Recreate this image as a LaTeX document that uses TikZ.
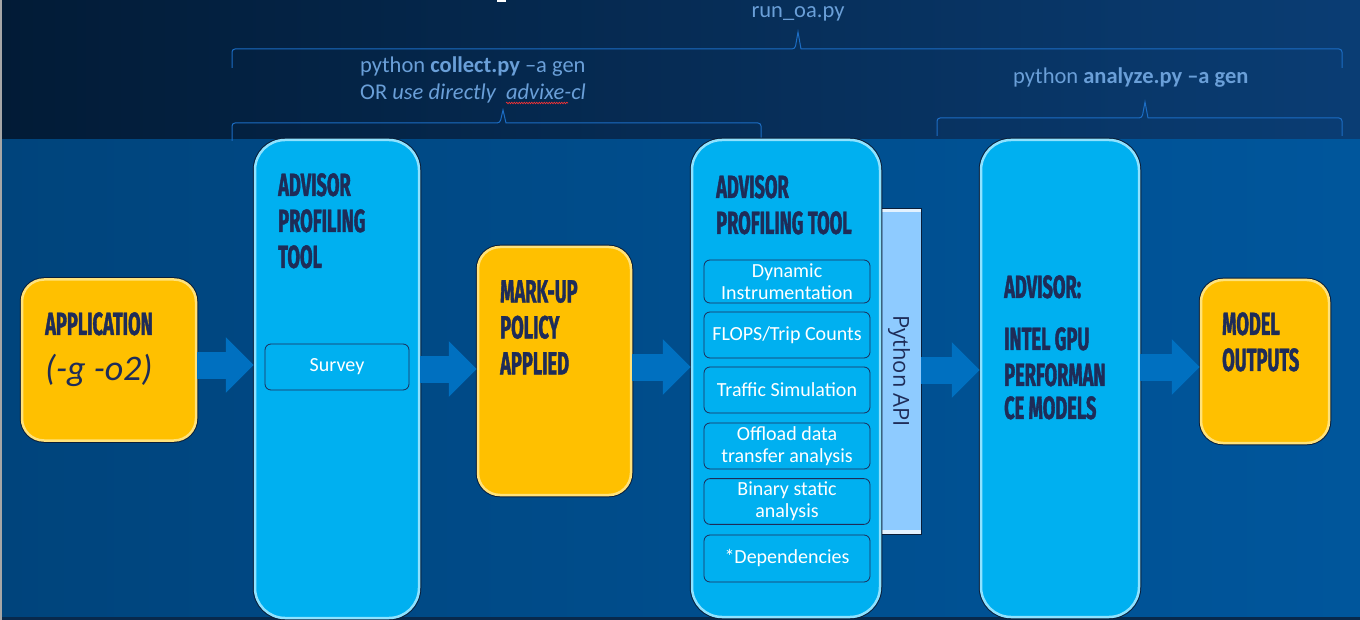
\documentclass[tikz,border=0pt]{standalone}
\usepackage{fontspec}
\setmainfont{Carlito}
\newfontfamily\headfont[FakeStretch=0.57, BoldFeatures={FakeBold=1.2}]{Fira Sans}
\newfontfamily\apifont{Open Sans}
\usepackage{tikz}
\usetikzlibrary{
  arrows.meta,
  positioning,
  calc,
  decorations.pathmorphing
}
\definecolor{topleft}{HTML}{021B36}
\definecolor{topright}{HTML}{0A3D74}
\definecolor{lowleft}{HTML}{00447C}
\definecolor{lowright}{HTML}{00569C}
\definecolor{toolcyan}{HTML}{00B0F0}
\definecolor{toolglow}{HTML}{8FE2FF}
\definecolor{markyellow}{HTML}{FFC000}
\definecolor{markglow}{HTML}{FFE27A}
\definecolor{edgedark}{HTML}{0B1E38}
\definecolor{headnavy}{HTML}{1E2C58}
\definecolor{apiblue}{HTML}{8ECBFF}
\definecolor{arrowblue}{HTML}{0070C0}
\definecolor{cmdblue}{HTML}{6A9FD8}
\definecolor{bracketblue}{HTML}{1C6DC4}
\tikzset{
  toolbox/.style={
    fill=toolcyan,
    draw=toolglow,
    line width=2.5pt,
    preaction={draw=edgedark, line width=4.5pt},
    rounded corners=30pt,
    inner sep=0pt,
  },
  inputbox/.style={
    fill=markyellow,
    draw=markglow,
    line width=2.5pt,
    preaction={draw=edgedark, line width=4.5pt},
    rounded corners=22pt,
    inner sep=0pt,
  },
  subbox/.style={
    fill=toolcyan,
    draw=headnavy,
    line width=0.8pt,
    rounded corners=6pt,
    minimum width=166pt,
    align=center,
    text=white,
    font=\fontsize{20}{22}\selectfont,
  },
  apibar/.style={
    fill=apiblue,
    draw=edgedark,
    line width=0.8pt,
    inner sep=0pt,
    path picture={
      \fill[white!75!apiblue] (path picture bounding box.north west) rectangle ([yshift=-4pt]path picture bounding box.north east);
      \fill[white!75!apiblue] (path picture bounding box.south west) rectangle ([yshift=4pt]path picture bounding box.south east);
    },
  },
  headtxt/.style={
    font=\headfont\bfseries\fontsize{32}{36}\selectfont,
    text=headnavy,
    align=left,
    inner sep=0pt,
    anchor=north west,
  },
  cmdtxt/.style={
    font=\fontsize{22.5}{27}\selectfont,
    text=cmdblue,
    align=left,
    inner sep=0pt,
  },
  blockarr/.style={
    draw=arrowblue,
    line width=27pt,
    -{Triangle[length=28pt, width=54pt]},
  },
  bracket/.style={
    draw=bracketblue,
    line width=1pt,
  },
}

\begin{document}
\begin{tikzpicture}[x=1pt, y=-1pt]
  \useasboundingbox (0,0) rectangle (1360,620);

  % backdrop
  \shade[left color=topleft, right color=topright] (0,0) rectangle (1360,140);
  \shade[left color=lowleft, right color=lowright] (0,140) rectangle (1360,620);
  \fill[edgedark!70!lowleft] (0,617) rectangle (1360,620);
  \fill[gray!70] (0,0) rectangle (1.5,620);
  \fill[white] (497,0) rectangle (506,2);

  % Command line labels and braces
  \node[cmdtxt] (runoa) at (798,14) {run\_oa.py};
  \node[cmdtxt, anchor=west] (collect) at (360,80)
    {python \textbf{collect.py} --a gen\\OR \textit{use directly\ \ advixe-cl}};
  \node[cmdtxt, anchor=west] (analyze) at (1013,78) {python \textbf{analyze.py --a gen}};
  \draw[red!80, line width=0.6pt, decorate,
    decoration={snake, amplitude=0.8pt, segment length=2.5pt}] (506,103) -- (568,103);

  \draw[bracket] (232,68) {[rounded corners=3pt] -- (232,49) -- (795,49)} -- (798,32) -- (801,49)
    {[rounded corners=3pt] -- (1342,49) -- (1342,68)};
  \draw[bracket] (232,141) {[rounded corners=3pt] -- (232,123) -- (500,123)} -- (503,110) -- (506,123)
    {[rounded corners=3pt] -- (761,123) -- (761,141)};
  \draw[bracket] (937,136) {[rounded corners=3pt] -- (937,118) -- (1142,118)} -- (1145,102) -- (1148,118)
    {[rounded corners=3pt] -- (1342,118) -- (1342,136)};

  % Stage boxes
  \node[inputbox, minimum width=174pt, minimum height=161pt] (app)     at (109,360) {};
  \node[toolbox,  minimum width=164pt, minimum height=478pt] (prof1)   at (337,379) {};
  \node[inputbox, minimum width=153pt, minimum height=248pt] (markup)  at (554.5,371) {};
  \node[apibar,   minimum width=41pt,  minimum height=326pt] (pyapi)   at (900.5,371) {};
  \node[toolbox,  minimum width=188pt, minimum height=477pt] (prof2)   at (786,378.5) {};
  \node[toolbox,  minimum width=158pt, minimum height=477pt] (gpu)     at (1060,378.5) {};
  \node[inputbox, minimum width=128pt, minimum height=163pt] (outputs) at (1265,361.5) {};

  % Box titles
  \node[headtxt] (apptitle) at (45,312) {APPLICATION};
  \node[text=headnavy, font=\itshape\fontsize{36}{40}\selectfont, anchor=west, inner sep=0pt]
    (appflags) at (45,370) {(-g -o2)};
  \node[headtxt] (prof1title) at (278,173) {ADVISOR\\PROFILING\\TOOL};
  \node[headtxt] (marktitle) at (500,280) {MARK-UP\\POLICY\\APPLIED};
  \node[headtxt] (prof2title) at (716,175) {ADVISOR\\PROFILING TOOL};
  \node[headtxt] (gputitle) at (1004,275) {ADVISOR:\\[16pt]INTEL GPU\\PERFORMAN\\[-3pt]CE MODELS};
  \node[headtxt] (outtitle) at (1222,312) {MODEL\\OUTPUTS};

  % Analysis steps
  \node[subbox, minimum width=144pt, minimum height=46pt] (survey) at (337,367) {Survey};
  \node[subbox, minimum height=43pt] (dyn)     at (787,281.5) {Dynamic\\Instrumentation};
  \node[subbox, minimum height=46pt] (flops)   at (787,335) {FLOPS/Trip Counts};
  \node[subbox, minimum height=46pt] (traffic) at (787,390) {Traffic Simulation};
  \node[subbox, minimum height=46pt] (offload) at (787,446) {Offload data\\transfer analysis};
  \node[subbox, minimum height=45pt] (binary)  at (787,501.5) {Binary static\\analysis};
  \node[subbox, minimum height=47pt] (deps)    at (787,558.5) {*Dependencies};

  \node[rotate=-90, font=\apifont\fontsize{22}{26}\selectfont, text=headnavy, inner sep=0pt]
    (apitxt) at (899,371) {Python API};

  % Flow arrows
  \draw[blockarr] (app.east |- 0,365) -- (prof1.west |- 0,365);
  \draw[blockarr] (prof1.east |- 0,369) -- (markup.west |- 0,369);
  \draw[blockarr] (markup.east |- 0,367) -- (prof2.west |- 0,367);
  \draw[blockarr] (pyapi.east |- 0,370) -- (gpu.west |- 0,370);
  \draw[blockarr] (gpu.east |- 0,367) -- (outputs.west |- 0,367);
\end{tikzpicture}
\end{document}
